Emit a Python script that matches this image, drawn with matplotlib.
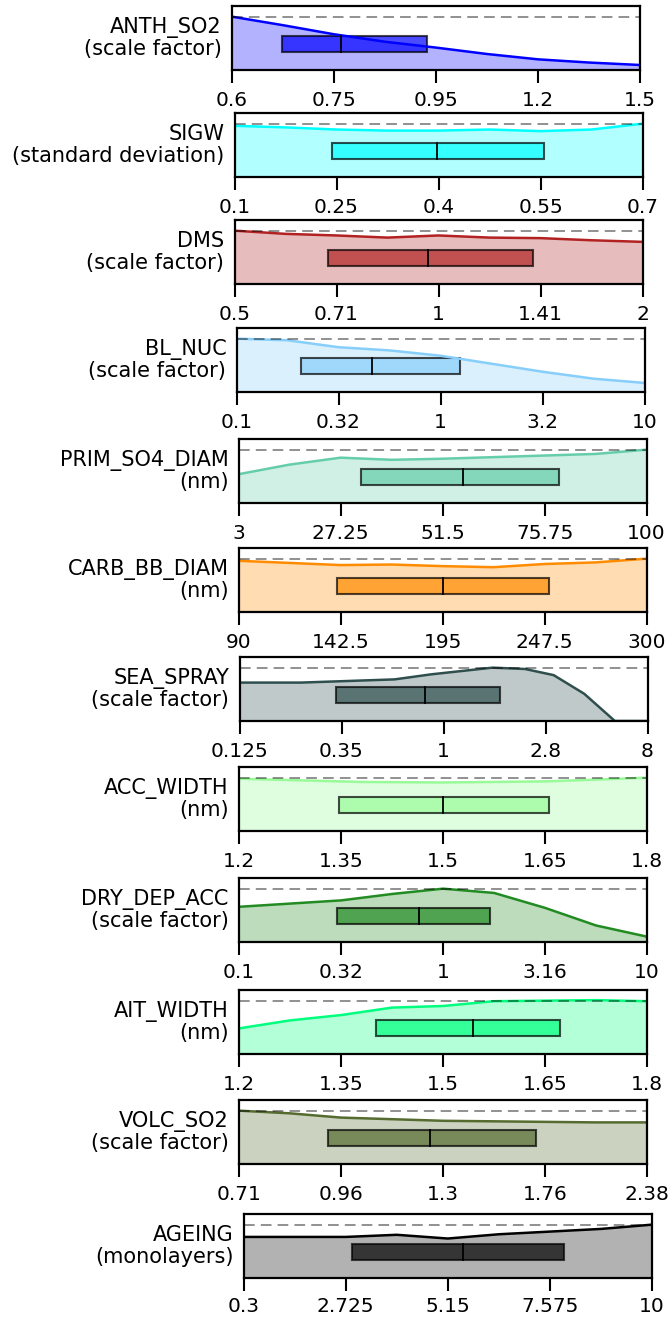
import matplotlib
matplotlib.use("Agg")
import matplotlib.pyplot as plt
from matplotlib.patches import Rectangle

# parameter names and units
names = ["ANTH_SO2", "SIGW", "DMS", "BL_NUC", "PRIM_SO4_DIAM", "CARB_BB_DIAM",
         "SEA_SPRAY", "ACC_WIDTH", "DRY_DEP_ACC", "AIT_WIDTH", "VOLC_SO2", "AGEING"]
units = ["scale factor", "standard deviation", "scale factor", "scale factor", "nm", "nm",
         "scale factor", "nm", "scale factor", "nm", "scale factor", "monolayers"]
colors = ["blue", "cyan", "firebrick", "lightskyblue", "mediumaquamarine", "darkorange",
          "darkslategray", "palegreen", "forestgreen", "springgreen", "darkolivegreen", "black"]

tick_labels = [
    ["0.6", "0.75", "0.95", "1.2", "1.5"],
    ["0.1", "0.25", "0.4", "0.55", "0.7"],
    ["0.5", "0.71", "1", "1.41", "2"],
    ["0.1", "0.32", "1", "3.2", "10"],
    ["3", "27.25", "51.5", "75.75", "100"],
    ["90", "142.5", "195", "247.5", "300"],
    ["0.125", "0.35", "1", "2.8", "8"],
    ["1.2", "1.35", "1.5", "1.65", "1.8"],
    ["0.1", "0.32", "1", "3.16", "10"],
    ["1.2", "1.35", "1.5", "1.65", "1.8"],
    ["0.71", "0.96", "1.3", "1.76", "2.38"],
    ["0.3", "2.725", "5.15", "7.575", "10"],
]

# box summaries (normalised parameter range): q1, median, q3
q1 = [0.122, 0.240, 0.229, 0.157, 0.299, 0.242, 0.236, 0.244, 0.241, 0.337, 0.219, 0.265]
med = [0.267, 0.497, 0.475, 0.333, 0.549, 0.500, 0.455, 0.501, 0.440, 0.574, 0.467, 0.537]
q3 = [0.478, 0.758, 0.732, 0.548, 0.786, 0.762, 0.638, 0.759, 0.615, 0.787, 0.729, 0.786]

# density curves (relative to max)
grid = [0, 0.125, 0.25, 0.375, 0.5, 0.625, 0.75, 0.875, 1]
dens_x = [grid, grid, grid, grid, grid, grid,
          [0, 0.15, 0.38, 0.47, 0.62, 0.70, 0.77, 0.845, 0.92, 1.0],
          [0, 0.15, 0.3, 0.5, 0.75, 0.9, 1],
          grid, grid, grid, grid]
dens_y = [
    [1.0, 0.84, 0.67, 0.53, 0.42, 0.30, 0.20, 0.14, 0.094],
    [0.96, 0.93, 0.89, 0.87, 0.87, 0.89, 0.86, 0.89, 1.0],
    [1.0, 0.94, 0.91, 0.87, 0.91, 0.87, 0.86, 0.82, 0.79],
    [1.0, 0.97, 0.84, 0.78, 0.68, 0.53, 0.38, 0.25, 0.17],
    [0.54, 0.72, 0.85, 0.81, 0.83, 0.86, 0.89, 0.92, 1.0],
    [0.96, 0.92, 0.88, 0.89, 0.86, 0.84, 0.90, 0.93, 1.0],
    [0.72, 0.72, 0.78, 0.875, 1.0, 0.975, 0.86, 0.51, 0.0, 0.0],
    [0.98, 0.95, 0.92, 0.91, 0.93, 0.97, 1.0],
    [0.66, 0.72, 0.78, 0.90, 1.0, 0.92, 0.64, 0.31, 0.10],
    [0.48, 0.63, 0.73, 0.87, 0.90, 0.99, 1.0, 1.01, 0.99],
    [1.0, 0.95, 0.87, 0.84, 0.81, 0.80, 0.79, 0.78, 0.78],
    [0.77, 0.77, 0.77, 0.81, 0.74, 0.82, 0.87, 0.92, 1.0],
]

# panel placement in pixels (left, top)
lefts = [232, 234.5, 234.5, 236.5, 238.6, 238.6, 239.5, 239, 239, 239, 239, 243.8]
tops = [6, 113, 220, 328, 439, 548, 657, 767, 878, 990, 1100, 1214]
W, H = 672, 1317
pw, ph = 408, 64

fig = plt.figure(figsize=(W / 100, H / 100), dpi=100)

for i in range(len(names)):
    ax = fig.add_axes([lefts[i] / W, 1 - (tops[i] + ph) / H, pw / W, ph / H])
    c = colors[i]
    ax.fill_between(dens_x[i], 0, dens_y[i], color=c, alpha=0.3, lw=0)
    ax.plot(dens_x[i], dens_y[i], color=c, lw=1.8)
    ax.axhline(1.0, color="black", alpha=0.55, lw=1.1, ls=(0, (7, 4)))
    ax.add_patch(Rectangle((q1[i], 0.34), q3[i] - q1[i], 0.3, facecolor=c, alpha=0.7,
                           edgecolor="black", lw=1.5))
    ax.plot([med[i], med[i]], [0.34, 0.64], color="black", lw=1.3)
    ax.set_xlim(0, 1)
    ax.set_ylim(0, 1.2)
    ax.set_yticks([])
    ax.set_xticks([0, 0.25, 0.5, 0.75, 1])
    ax.set_xticklabels(tick_labels[i], fontsize=14.5)
    pad = 5 if i == len(names) - 1 else 6
    ax.tick_params(axis="x", direction="out", length=9, width=1.5, pad=pad)
    for s in ax.spines.values():
        s.set_linewidth(1.6)
    ax.text(-0.025, 0.5, names[i] + "\n(" + units[i] + ")", transform=ax.transAxes,
            ha="right", va="center", fontsize=15, linespacing=1.1)

plt.savefig("out.png", dpi=100)
